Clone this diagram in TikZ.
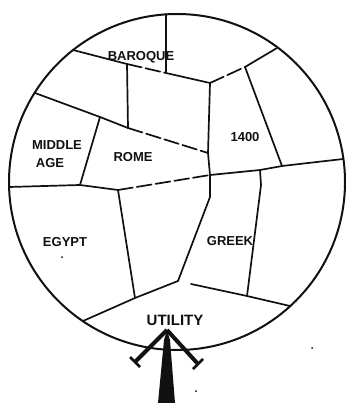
\documentclass[tikz,border=0pt]{standalone}
\usepackage{fontspec}
\setmainfont{Liberation Sans}
\usetikzlibrary{calc}
\definecolor{ink}{HTML}{111111}

\tikzset{
  wall/.style={draw=ink, line width=1.7pt, line cap=round, line join=round},
  brk/.style={wall, dash pattern=on 15pt off 4pt},
  era/.style={text=ink, font=\fontsize{13}{13}\selectfont\bfseries, inner sep=0pt},
  barb/.style={draw=ink, line width=4pt},
  serif/.style={draw=ink, line width=2.5pt},
}

\begin{document}
\begin{tikzpicture}[x=1pt,y=-1pt]
  \useasboundingbox (0,0) rectangle (347,403);

  % the ring
  \coordinate (o) at (177,182);
  \draw[draw=ink, line width=2pt] (o) circle [radius=168pt];

  % junctions
  \coordinate (t0) at (166,14);
  \coordinate (t1) at (166,73);
  \coordinate (b0) at (73,50);
  \coordinate (b1) at (127,64);
  \coordinate (b2) at (210,83);
  \coordinate (b3) at (245,67);
  \coordinate (b4) at (277,48);
  \coordinate (m0) at (35,93);
  \coordinate (m1) at (100,117);
  \coordinate (m2) at (128,128);
  \coordinate (m3) at (208,153);
  \coordinate (h0) at (9,187);
  \coordinate (h1) at (80,185);
  \coordinate (h2) at (118,190);
  \coordinate (h3) at (210,175);
  \coordinate (h4) at (260,170);
  \coordinate (h5) at (282,166);
  \coordinate (h6) at (343,159);
  \coordinate (g1) at (210,197);
  \coordinate (g2) at (261,185);
  \coordinate (u0) at (83,321);
  \coordinate (u1) at (135,298);
  \coordinate (u2) at (178,281);
  \coordinate (u2a) at (191,284);
  \coordinate (u3) at (247,296);
  \coordinate (u4) at (290,306);

  % borders
  \draw[wall] (t0) -- (t1);
  \draw[wall] (b0) -- (b1);
  \draw[brk] (b1) -- (t1);
  \draw[wall] (t1) -- (b2);
  \draw[brk] (b2) -- (b3);
  \draw[wall] (b3) -- (b4);
  \draw[wall] (b3) -- (h5);
  \draw[wall] (b1) -- (m2);
  \draw[wall] (b2) -- (m3) -- (h3);
  \draw[wall] (m0) -- (m1) -- (m2);
  \draw[brk] (m2) -- (m3);
  \draw[wall] (m1) -- (h1);
  \draw[wall] (h0) -- (h1) -- (h2);
  \draw[brk] (h2) -- (h3);
  \draw[wall] (h3) -- (h4) -- (h5) -- (h6);
  \draw[wall] (h2) -- (u1);
  \draw[wall] (h3) -- (g1) -- (u2);
  \draw[wall] (h4) -- (g2) -- (u3);
  \draw[wall] (u0) -- (u1) -- (u2);
  \draw[wall] (u2a) -- (u3) -- (u4);

  % eras
  \node[era] (baroque) at (141,57) {BAROQUE};
  \node[era] (middle) at (57,145) {MIDDLE};
  \node[era] (age) at (50,163) {AGE};
  \node[era] (rome) at (133,157) {ROME};
  \node[era] (y1400) at (245,137) {1400};
  \node[era] (egypt) at (65,242) {EGYPT};
  \node[era] (greek) at (230,241) {GREEK};
  \node[era, font=\fontsize{15}{15}\selectfont\bfseries] (utility) at (175,320) {UTILITY};

  % the arrow
  \coordinate (tip) at (167,330);
  \coordinate (lb) at (135,362);
  \coordinate (rb) at (198,364);
  \fill[ink] (tip) -- (170,340) -- (175,403) -- (158,403) -- (164,340) -- cycle;
  \draw[barb] (tip) -- (lb);
  \draw[barb] (tip) -- (rb);
  \draw[serif] ($(lb)+(-5,-5)$) -- ($(lb)+(5,5)$);
  \draw[serif] ($(rb)+(-5,5)$) -- ($(rb)+(5,-5)$);

  % specks
  \fill[ink] (62,257) circle (1pt);
  \fill[ink] (312,348) circle (1pt);
  \fill[ink] (196,391) circle (1pt);
\end{tikzpicture}
\end{document}
